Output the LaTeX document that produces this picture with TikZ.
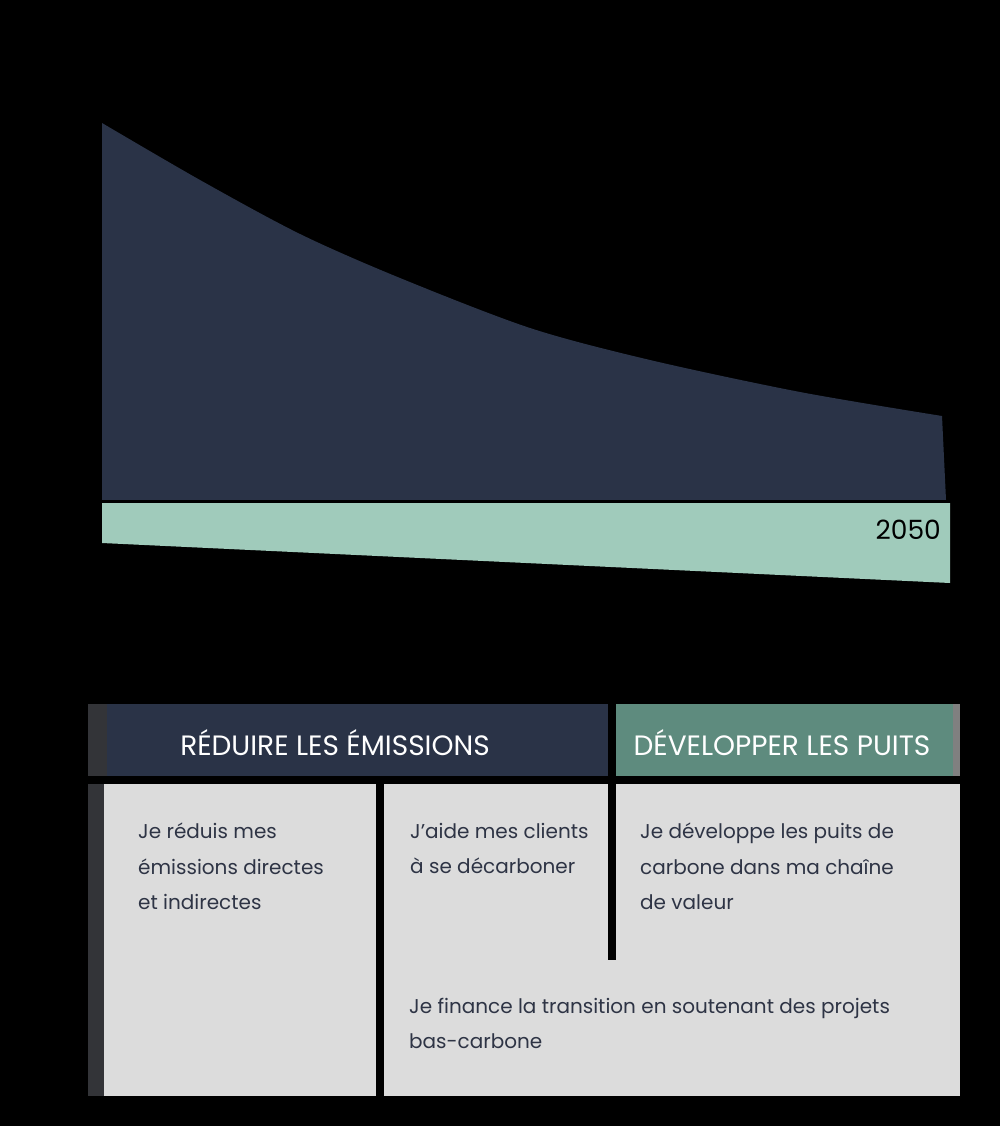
\documentclass[tikz,border=0pt]{standalone}
\usepackage{fontspec}
\setmainfont{Poppins}
\definecolor{navy}{HTML}{2A3347}
\definecolor{mint}{HTML}{A0CBBB}
\definecolor{teal}{HTML}{5E8B7E}
\definecolor{cellgray}{HTML}{DCDCDC}
\definecolor{stripgray}{HTML}{333438}
\definecolor{bodytext}{HTML}{2E3445}
\tikzset{
  header/.style={text=white, font=\fontsize{28}{32}\selectfont, inner sep=0pt},
  body/.style={text=bodytext, font=\fontsize{20}{35.5}\selectfont, inner sep=0pt, anchor=north west, align=left},
}
\begin{document}
\begin{tikzpicture}[x=1pt,y=-1pt]
\useasboundingbox (0,0) rectangle (1000,1126);
\fill[black] (0,0) rectangle (1000,1126);
% navy emissions area
\fill[navy] (102,123) plot[smooth, tension=0.5] coordinates {(102,123) (200,180) (300,234) (400,278) (530,328) (650,360) (800,392) (942,416)} -- (946,500) -- (102,500) -- cycle;
% mint sinks area
\fill[mint] (102,503) -- (950,503) -- (950,583) -- (102,543) -- cycle;
% axes
\coordinate (ytop) at (101,63);
\coordinate (ybot) at (101,610);
\coordinate (xleft) at (100,501);
\coordinate (xright) at (958,501);
\draw[black, line width=2] (ytop) -- (ybot);
\draw[black, line width=2] (xleft) -- (xright);
\node[anchor=east, inner sep=0pt, font=\fontsize{26.5}{30}\selectfont, text=black] (y2050) at (941,530) {2050};
% headers
\fill[stripgray] (88,704) rectangle (107,776);
\fill[navy] (107,704) rectangle (608,776);
\node[header] (h1) at (335,743) {RÉDUIRE LES ÉMISSIONS};
\fill[teal] (616,704) rectangle (953,776);
\fill[gray] (953,704) rectangle (960,776);
\node[header] (h2) at (782,743) {DÉVELOPPER LES PUITS};
% cells
\fill[stripgray] (88,784) rectangle (104,1096);
\fill[cellgray] (104,784) rectangle (376,1096);
\fill[cellgray] (384,784) rectangle (960,1096);
\fill[black] (608,784) rectangle (616,960);
\node[body] (c1) at (138,823) {Je réduis mes\\émissions directes\\et indirectes};
\node[body] (c2) at (410,823) {J’aide mes clients\\à se décarboner};
\node[body] (c3) at (640,823) {Je développe les puits de\\carbone dans ma chaîne\\de valeur};
\node[body] (c4) at (409,998) {Je finance la transition en soutenant des projets\\bas-carbone};
\end{tikzpicture}
\end{document}
